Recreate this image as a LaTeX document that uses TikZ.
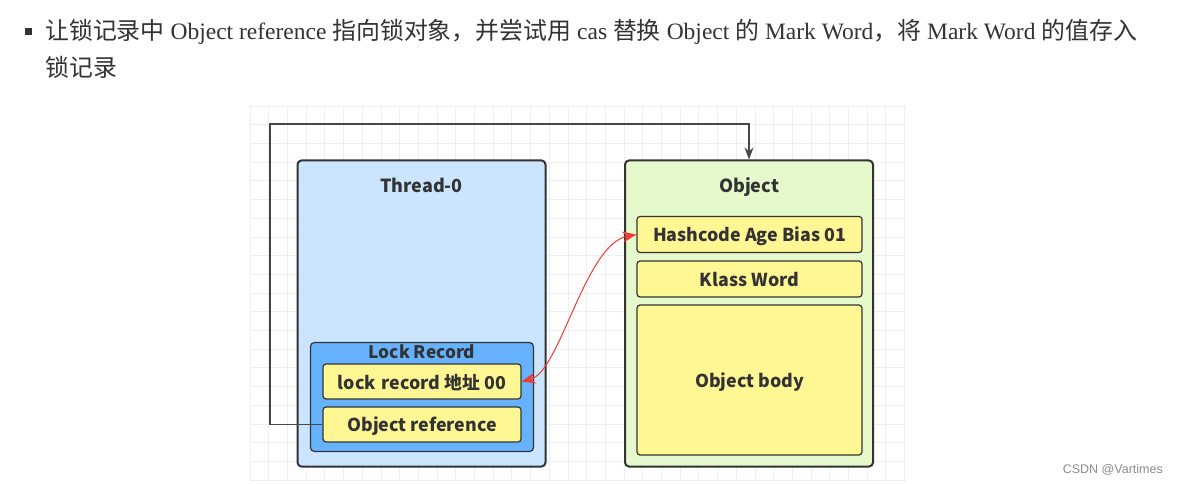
\documentclass[tikz,border=0pt]{standalone}
\usepackage{fontspec}
\setmainfont{Liberation Serif}
\newfontfamily\cjkf{Noto Sans CJK SC}
\newfontfamily\diag{Noto Sans CJK SC}
\newcommand{\zh}[1]{{\cjkf\fontsize{23.9}{28}\selectfont #1}}
\usetikzlibrary{arrows.meta}
\definecolor{threadfill}{HTML}{CCE5FF}
\definecolor{lockfill}{HTML}{66B2FF}
\definecolor{yel}{HTML}{FFF794}
\definecolor{objfill}{HTML}{E6F9CC}
\definecolor{edge}{HTML}{333333}
\definecolor{gridc}{HTML}{EFEFEF}
\definecolor{txt}{HTML}{333333}
\definecolor{arrred}{HTML}{F33A2E}
\begin{document}
\begin{tikzpicture}[x=1pt,y=-1pt,
  bigbox/.style={draw=edge, line width=2pt, rounded corners=4pt, inner sep=0pt},
  midbox/.style={draw=edge, line width=1.2pt, rounded corners=4pt, inner sep=0pt},
  cell/.style={draw=edge, line width=1.2pt, rounded corners=3pt, fill=yel, inner sep=0pt, text depth=0pt,
    font=\diag\bfseries\fontsize{17.8}{20}\selectfont, text=txt},
  title/.style={font=\diag\bfseries\fontsize{18}{21}\selectfont, text=txt, inner sep=0pt, text depth=0pt},
  conn/.style={draw=edge!90, line width=1.1pt},
  redconn/.style={draw=arrred, line width=1pt, {Stealth[length=14pt,width=11pt]}-{Stealth[length=14pt,width=11pt]}}
]
\useasboundingbox (0,0) rectangle (1178,484);
\fill[white] (0,0) rectangle (1178,484);
% grid background
\foreach \i in {0,...,35} {\draw[gridc, line width=0.8pt] (250+\i*18.7,106) -- (250+\i*18.7,480);}
\foreach \j in {0,...,20} {\draw[gridc, line width=0.8pt] (250,106+\j*18.7) -- (906,106+\j*18.7);}
% heading
\fill[edge] (24.5,28.5) rectangle (31.5,35.5);
\node[anchor=west, inner sep=0pt, text=black!80, font=\fontsize{23.5}{28}\selectfont] (h1) at (45,32)
  {\zh{让锁记录中} Object reference \zh{指向锁对象，并尝试用} cas \zh{替换} Object \zh{的} Mark Word\zh{，将} Mark Word \zh{的值存入}};
\node[anchor=west, inner sep=0pt, text=black!80] (h2) at (45,67) {\zh{锁记录}};
% Thread-0
\node[bigbox, fill=threadfill, minimum width=248pt, minimum height=306pt] (thread) at (421.5,313.5) {};
\node[title] (threadt) at (421.5,185) {Thread-0};
\node[midbox, fill=lockfill, minimum width=223pt, minimum height=109pt] (lock) at (422,397) {};
\node[title, font=\diag\bfseries\fontsize{17.3}{20}\selectfont] (lockt) at (422,352) {Lock Record};
\node[cell, minimum width=198pt, minimum height=35pt] (lr) at (422,381.5) {lock\,\,record 地址 00};
\node[cell, minimum width=198pt, minimum height=35pt] (objref) at (422,424.5) {Object reference};
% Object
\node[bigbox, fill=objfill, minimum width=248pt, minimum height=306pt] (obj) at (749,313.5) {};
\node[title] (objt) at (749,185) {Object};
\node[cell, minimum width=225pt, minimum height=36pt] (hash) at (749.5,234.5) {Hashcode Age Bias 01};
\node[cell, minimum width=225pt, minimum height=36pt] (klass) at (749.5,279) {Klass Word};
\node[cell, minimum width=225pt, minimum height=150pt] (body) at (749.5,380) {Object body};
% connectors
\coordinate (c1) at (270,124);
\draw[conn, -{Stealth[length=12pt,width=9pt]}] (objref.west) -| (c1) -| (obj.north);
\draw[redconn] (lr.east) .. controls (560,372) and (585,244) .. (hash.west);
% watermark
\node[anchor=east, inner sep=0pt, text=black!45, font=\fontspec{Liberation Sans}\fontsize{12.5}{15}\selectfont] (wm) at (1163,470) {CSDN @Vartimes};
\end{tikzpicture}
\end{document}
